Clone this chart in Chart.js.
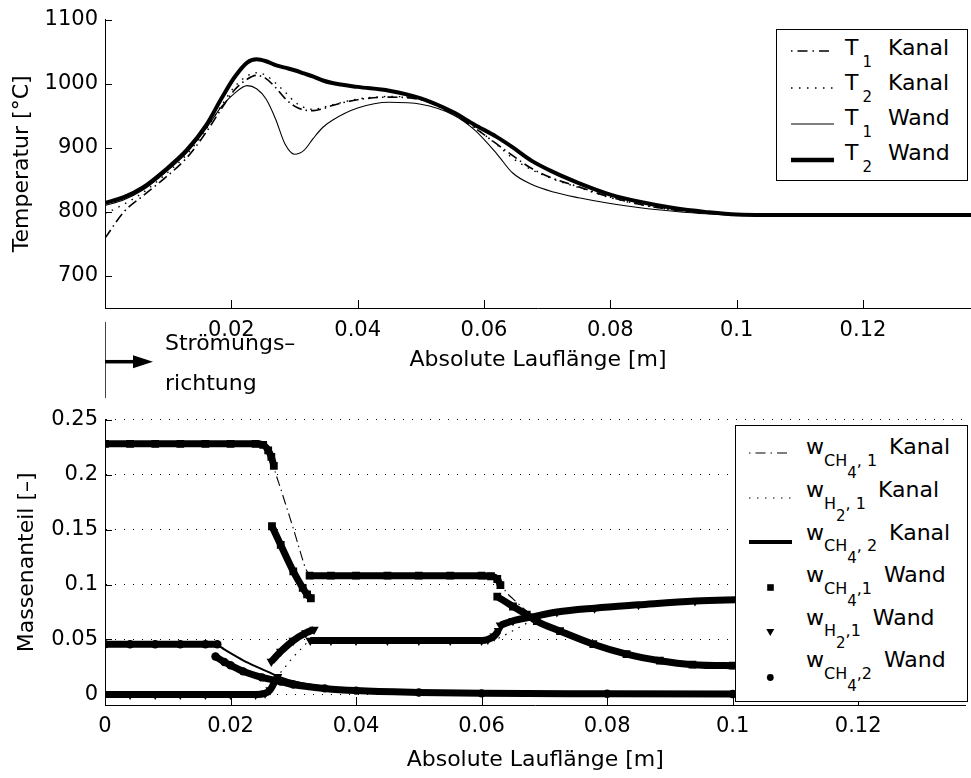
<!DOCTYPE html>
<html lang="de">
<head>
<meta charset="UTF-8">
<title>Temperatur und Massenanteil</title>
<script src="https://cdn.jsdelivr.net/npm/chart.js"></script>
<style>
    body {
        margin: 0;
        background: #fff;
        font-family: 'DejaVu Sans', sans-serif;
        color: #000;
    }
    #figure { position: relative; width: 971px; height: 778px; overflow: hidden; }
    #tempBox { position: absolute; left: 0; top: 0; width: 971px; height: 400px; }
    #massBox { position: absolute; left: 0; top: 400px; width: 971px; height: 378px; }
    .legend {
        position: absolute;
        box-sizing: border-box;
        background: #fff;
        border: 1px solid #000;
    }
    .legend .row {
        position: absolute;
        white-space: nowrap;
        font-size: 22px;
        line-height: 26px;
    }
    .legend svg { position: absolute; }
    .sub { font-size: 15px; position: relative; top: 11.5px; margin-left: 4px; }
    .sb { font-size: 16px; position: relative; top: 11.5px; }
    .sb2 { font-size: 15px; position: relative; top: 12px; }
    .word { margin-left: 16px; }
    .mass .word { margin-left: 12px; }
    #flowLine { position: absolute; left: 105px; top: 322px; width: 1px; height: 76px; background: #444; }
    #flowArrow { position: absolute; left: 105px; top: 350px; }
    #flowText { position: absolute; left: 165px; top: 323px; font-size: 22px; line-height: 40px; }
</style>
</head>
<body>
<div id="figure">
    <div id="tempBox"><canvas id="tempChart"></canvas></div>
    <div id="massBox"><canvas id="massChart"></canvas></div>

    <!-- Strömungsrichtung -->
    <div id="flowLine"></div>
    <svg id="flowArrow" width="50" height="24">
        <line x1="0" y1="11.7" x2="32" y2="11.7" stroke="#000" stroke-width="3.5"/>
        <polygon points="28,5.2 48,11.7 28,18.2" fill="#000"/>
    </svg>
    <div id="flowText">Strömungs–<br>richtung</div>

    <!-- Legende Temperaturen -->
    <div class="legend" style="left:776px;top:29px;width:192px;height:152px">
        <svg style="left:14px;top:16px" width="43" height="10"><line x1="0" y1="5" x2="43" y2="5" stroke="#000" stroke-width="1.6" stroke-dasharray="1.5 5 10 5"/></svg>
        <svg style="left:14px;top:53px" width="43" height="10"><line x1="0" y1="5" x2="43" y2="5" stroke="#000" stroke-width="1.4" stroke-dasharray="1.5 6.5"/></svg>
        <svg style="left:14px;top:89px" width="43" height="10"><line x1="0" y1="5" x2="43" y2="5" stroke="#000" stroke-width="1"/></svg>
        <svg style="left:14px;top:125px" width="43" height="10"><line x1="0" y1="5" x2="43" y2="5" stroke="#000" stroke-width="4.5"/></svg>
        <div class="row" style="left:68px;top:5.4px">T<span class="sub">1</span><span class="word">Kanal</span></div>
        <div class="row" style="left:68px;top:40.4px">T<span class="sub">2</span><span class="word">Kanal</span></div>
        <div class="row" style="left:68px;top:75.4px">T<span class="sub">1</span><span class="word">Wand</span></div>
        <div class="row" style="left:68px;top:110.4px">T<span class="sub">2</span><span class="word">Wand</span></div>
    </div>

    <!-- Legende Massenanteile -->
    <div class="legend mass" style="left:735px;top:425px;width:233px;height:277px">
        <svg style="left:13px;top:21.7px" width="43" height="10"><line x1="0" y1="5" x2="43" y2="5" stroke="#000" stroke-width="1.2" stroke-dasharray="1.5 5 10 5"/></svg>
        <svg style="left:13px;top:66.7px" width="43" height="10"><line x1="0" y1="5" x2="43" y2="5" stroke="#000" stroke-width="1.2" stroke-dasharray="1.5 6.5"/></svg>
        <svg style="left:13px;top:110.7px" width="43" height="10"><line x1="0" y1="5" x2="43" y2="5" stroke="#000" stroke-width="4"/></svg>
        <svg style="left:28px;top:155px" width="13" height="13"><rect x="3.2" y="3.2" width="6.6" height="6.6" fill="#000"/></svg>
        <svg style="left:28px;top:200px" width="13" height="13"><polygon points="2.3,3 10.3,3 6.3,10" fill="#000"/></svg>
        <svg style="left:28px;top:244.5px" width="13" height="13"><circle cx="6.3" cy="6.5" r="3.4" fill="#000"/></svg>
        <div class="row" style="left:70px;top:8.4px">w<span class="sb">CH<span class="sb2">4</span>, 1</span><span class="word">Kanal</span></div>
        <div class="row" style="left:70px;top:51px">w<span class="sb">H<span class="sb2">2</span>, 1</span><span class="word">Kanal</span></div>
        <div class="row" style="left:70px;top:93.6px">w<span class="sb">CH<span class="sb2">4</span>, 2</span><span class="word">Kanal</span></div>
        <div class="row" style="left:70px;top:136.2px">w<span class="sb">CH<span class="sb2">4</span>,1</span><span class="word">Wand</span></div>
        <div class="row" style="left:70px;top:178.8px">w<span class="sb">H<span class="sb2">2</span>,1</span><span class="word">Wand</span></div>
        <div class="row" style="left:70px;top:221.4px">w<span class="sb">CH<span class="sb2">4</span>,2</span><span class="word">Wand</span></div>
    </div>
</div>

<script>
    // x-Achse (Lauflänge in m), gemeinsam für beide Diagramme
    const xMax = 0.1371;
    const xTickValues = [0, 0.02, 0.04, 0.06, 0.08, 0.1, 0.12];
    const tempXLabels = ['', '0.02', '0.04', '0.06', '0.08', '0.1', '0.12'];
    const massXLabels = ['0', '0.02', '0.04', '0.06', '0.08', '0.1', '0.12'];
    const tempTickValues = [700, 800, 900, 1000, 1100];
    const tempTickLabels = ['700', '800', '900', '1000', '1100'];
    const massTickValues = [0, 0.05, 0.1, 0.15, 0.2, 0.25];
    const massTickLabels = ['0', '0.05', '0.1', '0.15', '0.2', '0.25'];

    // Temperaturen [°C]
    const topX = [0, 0.003, 0.006, 0.0095, 0.013, 0.016, 0.0185, 0.0205, 0.0225, 0.024, 0.0255, 0.027,
        0.0285, 0.03, 0.0315, 0.033, 0.0345, 0.036, 0.04, 0.045, 0.05, 0.055, 0.0585, 0.062, 0.0645,
        0.0675, 0.071, 0.075, 0.08, 0.085, 0.09, 0.095, 0.1, 0.11, 0.12, 0.1371];
    const t1Kanal = [759, 800, 825, 853, 885, 924, 962, 990, 1007, 1013, 1008, 994,
        977, 965, 959, 958, 961, 966, 975, 979, 975, 953, 931, 906, 888,
        868, 852, 839, 823, 811, 803, 799, 796, 795, 795, 795];
    const t2Kanal = [797, 812, 830, 858, 890, 929, 967, 995, 1012, 1017, 1013, 1001,
        987, 972, 963, 960, 963, 967, 976, 980, 976, 955, 932, 905, 884,
        866, 851, 838, 822, 811, 803, 799, 796, 795, 795, 795];
    const t1Wand = [810, 819, 834, 861, 893, 930, 965, 985, 997, 992, 976, 945,
        906, 890, 896, 915, 932, 943, 962, 971, 968, 952, 928, 891, 861,
        843, 831, 822, 813, 806, 801, 797, 795, 795, 795, 795];
    const t2Wand = [814, 823, 838, 865, 897, 935, 978, 1010, 1033, 1038, 1035, 1029,
        1025, 1021, 1016, 1011, 1005, 1001, 995, 989, 977, 956, 936, 917, 901,
        880, 862, 845, 827, 815, 806, 800, 796, 795, 795, 795];

    // Massenanteile im Kanal
    const ch4Kanal1X = [0, 0.01, 0.02, 0.025, 0.026, 0.0265, 0.027, 0.028, 0.029, 0.03, 0.031, 0.032,
        0.0326, 0.033, 0.04, 0.05, 0.06, 0.062, 0.063, 0.0638, 0.065, 0.0678, 0.07, 0.0725, 0.0778,
        0.0831, 0.0884, 0.0936, 0.1, 0.11, 0.12, 0.1371];
    const ch4Kanal1 = [0.228, 0.228, 0.228, 0.228, 0.225, 0.218, 0.205, 0.187, 0.169, 0.151, 0.132, 0.114,
        0.109, 0.108, 0.108, 0.108, 0.108, 0.1075, 0.103, 0.094, 0.087, 0.073, 0.064, 0.0576, 0.0457,
        0.0367, 0.0307, 0.0271, 0.0262, 0.026, 0.0258, 0.0255];
    const h2Kanal1X = [0, 0.01, 0.02, 0.025, 0.026, 0.0265, 0.027, 0.028, 0.029, 0.03, 0.031, 0.032,
        0.0325, 0.033, 0.04, 0.05, 0.06, 0.062, 0.063, 0.065, 0.068, 0.072, 0.078, 0.085, 0.094,
        0.11, 0.1371];
    const h2Kanal1 = [0, 0, 0, 0, 0.001, 0.005, 0.011, 0.02, 0.027, 0.034, 0.04, 0.046,
        0.0485, 0.049, 0.049, 0.049, 0.049, 0.0495, 0.052, 0.058, 0.067, 0.075, 0.0785, 0.0815, 0.085,
        0.087, 0.089];
    const ch4Kanal2X = [0, 0.01, 0.017, 0.018, 0.019, 0.02, 0.022, 0.024, 0.026, 0.028, 0.03, 0.035,
        0.04, 0.05, 0.06, 0.08, 0.1, 0.1371];
    const ch4Kanal2 = [0.045, 0.045, 0.045, 0.0445, 0.041, 0.0375, 0.031, 0.0255, 0.0205, 0.0155, 0.012, 0.0068,
        0.004, 0.0019, 0.0011, 0.0005, 0.0003, 0.0002];

    // Massenanteile an der Wand, Abschnitte durch null getrennt
    const ch4Wand1X = [0, 0.004, 0.008, 0.012, 0.016, 0.02, 0.024, 0.0252, 0.026, 0.0265, 0.0269,
        0.0268,
        0.0266, 0.028, 0.03, 0.0315, 0.0322, 0.0328,
        0.0327,
        0.0326, 0.036, 0.04, 0.045, 0.05, 0.055, 0.06, 0.0615, 0.0625, 0.063,
        0.0628,
        0.0625, 0.065, 0.0672, 0.0688, 0.0725, 0.0778, 0.0831, 0.0884, 0.0936, 0.1, 0.11, 0.12, 0.1371];
    const ch4Wand1 = [0.228, 0.228, 0.228, 0.228, 0.228, 0.228, 0.228, 0.227, 0.222, 0.216, 0.208,
        null,
        0.153, 0.136, 0.112, 0.097, 0.091, 0.0875,
        null,
        0.108, 0.108, 0.108, 0.108, 0.108, 0.108, 0.108, 0.1075, 0.105, 0.0995,
        null,
        0.089, 0.08, 0.0726, 0.0666, 0.0576, 0.0457, 0.0367, 0.0307, 0.0271, 0.0262, 0.026, 0.0258, 0.0255];
    const h2Wand1X = [0, 0.004, 0.008, 0.012, 0.016, 0.02, 0.024, 0.0255, 0.0263, 0.027, 0.0275,
        0.027,
        0.0265, 0.028, 0.03, 0.032, 0.0333,
        0.033,
        0.0327, 0.036, 0.04, 0.045, 0.05, 0.055, 0.06, 0.061, 0.062, 0.0627,
        0.0628,
        0.063, 0.065, 0.068, 0.072, 0.078, 0.085, 0.094, 0.11, 0.1371];
    const h2Wand1 = [0, 0, 0, 0, 0, 0, 0, 0.001, 0.004, 0.011, 0.016,
        null,
        0.03, 0.039, 0.049, 0.056, 0.059,
        null,
        0.049, 0.049, 0.049, 0.049, 0.049, 0.049, 0.049, 0.05, 0.053, 0.058,
        null,
        0.063, 0.067, 0.0705, 0.075, 0.0785, 0.0815, 0.085, 0.087, 0.089];
    const ch4Wand2X = [0, 0.004, 0.008, 0.012, 0.016, 0.0179,
        0.0178,
        0.0176, 0.019, 0.02, 0.022, 0.025, 0.028, 0.03, 0.035, 0.04, 0.05, 0.06, 0.08, 0.1, 0.12, 0.1371];
    const ch4Wand2 = [0.0457, 0.0457, 0.0457, 0.0457, 0.0457, 0.0457,
        null,
        0.0345, 0.0295, 0.0265, 0.021, 0.0155, 0.0118, 0.009, 0.0055, 0.0035, 0.0018, 0.001, 0.0006, 0.0004, 0.0003, 0.0002];

    function points(xs, ys) {
        return xs.map((x, i) => ({ x: x, y: ys[i] }));
    }

    Chart.defaults.font.family = "'DejaVu Sans', sans-serif";
    Chart.defaults.font.size = 21;
    Chart.defaults.color = '#000';

    // Tick-Striche nach innen (Matlab-Stil)
    const innerTicks = {
        id: 'innerTicks',
        afterDatasetsDraw(chart, args, opts) {
            const ctx = chart.ctx;
            const xs = chart.scales.x, ys = chart.scales.y;
            ctx.save();
            ctx.strokeStyle = '#000';
            ctx.lineWidth = 1;
            ctx.beginPath();
            xs.ticks.forEach(t => {
                const px = Math.round(xs.getPixelForValue(t.value)) + 0.5;
                ctx.moveTo(px, xs.top);
                ctx.lineTo(px, xs.top - opts.xLen);
            });
            ys.ticks.forEach(t => {
                const py = Math.round(ys.getPixelForValue(t.value)) + 0.5;
                ctx.moveTo(ys.right, py);
                ctx.lineTo(ys.right + opts.yLen, py);
            });
            ctx.stroke();
            ctx.restore();
        }
    };

    function xScale(labels, height, labelPad, titlePad) {
        return {
            type: 'linear',
            min: 0,
            max: xMax,
            afterFit: s => { s.height = height; },
            afterBuildTicks: s => { s.ticks = xTickValues.map(v => ({ value: v })); },
            ticks: { callback: (v, i) => labels[i], padding: labelPad, autoSkip: false, maxRotation: 0 },
            grid: { drawOnChartArea: false, drawTicks: false },
            border: { color: '#000', width: 1 },
            title: { display: true, text: 'Absolute Lauflänge [m]', font: { size: 22 }, padding: { bottom: titlePad } }
        };
    }

    // Temperaturverlauf
    new Chart(document.getElementById('tempChart'), {
        type: 'line',
        data: {
            datasets: [{
                label: 'T1 Kanal',
                data: points(topX, t1Kanal),
                borderColor: '#000',
                borderWidth: 1.6,
                borderDash: [10, 4, 1.5, 4]
            }, {
                label: 'T2 Kanal',
                data: points(topX, t2Kanal),
                borderColor: '#000',
                borderWidth: 1.4,
                borderDash: [1.5, 6]
            }, {
                label: 'T1 Wand',
                data: points(topX, t1Wand),
                borderColor: '#000',
                borderWidth: 1.1
            }, {
                label: 'T2 Wand',
                data: points(topX, t2Wand),
                borderColor: '#000',
                borderWidth: 4
            }]
        },
        options: {
            responsive: true,
            maintainAspectRatio: false,
            animation: false,
            layout: { padding: { top: 19, right: 0, bottom: 0, left: 0 } },
            elements: {
                point: { radius: 0 },
                line: { cubicInterpolationMode: 'monotone' }
            },
            plugins: {
                legend: { display: false },
                tooltip: { enabled: false },
                innerTicks: { xLen: 8, yLen: 7 }
            },
            scales: {
                x: xScale(tempXLabels, 92, 10, 27),
                y: {
                    min: 650,
                    max: 1100,
                    afterFit: s => { s.width = 105; },
                    afterBuildTicks: s => { s.ticks = tempTickValues.map(v => ({ value: v })); },
                    ticks: { callback: (v, i) => tempTickLabels[i], padding: 7 },
                    grid: { drawOnChartArea: false, drawTicks: false },
                    border: { color: '#000', width: 1 },
                    title: { display: true, text: 'Temperatur [°C]', font: { size: 22 }, padding: { top: 9 } }
                }
            }
        },
        plugins: [innerTicks]
    });

    // Massenanteile
    new Chart(document.getElementById('massChart'), {
        type: 'line',
        data: {
            datasets: [{
                label: 'wCH4,1 Wand',
                data: points(ch4Wand1X, ch4Wand1),
                borderColor: '#000',
                borderWidth: 7,
                pointStyle: 'rect',
                pointRadius: 5.5,
                pointBackgroundColor: '#000',
                pointBorderWidth: 0,
                order: 1
            }, {
                label: 'wH2,1 Wand',
                data: points(h2Wand1X, h2Wand1),
                borderColor: '#000',
                borderWidth: 7,
                pointStyle: 'triangle',
                pointRotation: 180,
                pointRadius: 5.5,
                pointBackgroundColor: '#000',
                pointBorderWidth: 0,
                order: 1
            }, {
                label: 'wCH4,2 Wand',
                data: points(ch4Wand2X, ch4Wand2),
                borderColor: '#000',
                borderWidth: 7,
                borderCapStyle: 'round',
                pointStyle: 'circle',
                pointRadius: 4.2,
                pointBackgroundColor: '#000',
                pointBorderWidth: 0,
                order: 1
            }, {
                label: 'wCH4,1 Kanal',
                data: points(ch4Kanal1X, ch4Kanal1),
                borderColor: '#000',
                borderWidth: 1.1,
                borderDash: [10, 4, 1.5, 4],
                order: 2
            }, {
                label: 'wH2,1 Kanal',
                data: points(h2Kanal1X, h2Kanal1),
                borderColor: '#000',
                borderWidth: 1.2,
                borderDash: [1.5, 6],
                order: 2
            }, {
                label: 'wCH4,2 Kanal',
                data: points(ch4Kanal2X, ch4Kanal2),
                borderColor: '#000',
                borderWidth: 2,
                order: 2
            }]
        },
        options: {
            responsive: true,
            maintainAspectRatio: false,
            animation: false,
            layout: { padding: { top: 15, right: 0, bottom: 0, left: 0 } },
            elements: {
                point: { radius: 0 },
                line: { cubicInterpolationMode: 'monotone', borderJoinStyle: 'round' }
            },
            plugins: {
                legend: { display: false },
                tooltip: { enabled: false },
                innerTicks: { xLen: 8, yLen: 7 }
            },
            scales: {
                x: xScale(massXLabels, 73, 9, 5),
                y: {
                    min: -0.0096,
                    max: 0.25,
                    afterFit: s => { s.width = 105; },
                    afterBuildTicks: s => { s.ticks = massTickValues.map(v => ({ value: v })); },
                    ticks: { callback: (v, i) => massTickLabels[i], padding: 7 },
                    grid: { drawOnChartArea: true, drawTicks: false, color: '#000', lineWidth: 1 },
                    border: { color: '#000', width: 1, dash: [1, 8] },
                    title: { display: true, text: 'Massenanteil [–]', font: { size: 22 }, padding: { top: 14 } }
                }
            }
        },
        plugins: [innerTicks]
    });
</script>
</body>
</html>
